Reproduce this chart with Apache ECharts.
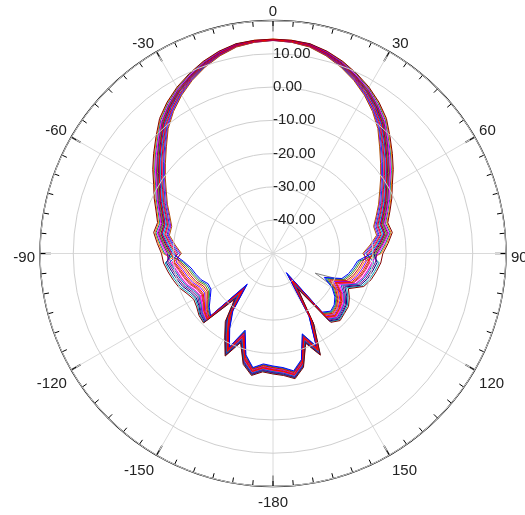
<!DOCTYPE html>
<html>
<head>
<meta charset="utf-8">
<script src="https://cdn.jsdelivr.net/npm/echarts@6/dist/echarts.min.js"></script>
<style>
html,body{margin:0;padding:0;background:#fff;}
#chart{width:525px;height:515px;}
</style>
</head>
<body>
<div id="chart"></div>
<script>
// Angles in degrees (0 = top, clockwise, -180..180)
const angles = [-180,-175,-170,-165,-160,-155,-150,-145,-140,-135,-130,-125,-120,-115,-110,-105,-100,-95,-90,-85,-80,-75,-70,-65,-60,-55,-50,-45,-40,-35,-30,-25,-20,-15,-10,-5,0,5,10,15,20,25,30,35,40,45,50,55,60,65,70,75,80,85,90,95,100,105,110,115,120,125,130,135,140,145,150,155,160,165,170,175,180];

// Radius axis range / step (dB)
const radiusMin = -50, radiusMax = 20, radiusStep = 10;
// Angle axis: labelled step and minor tick step (deg)
const angleStep = 30, angleMinorStep = 5;

const sWine = [-13.8,-14.3,-12.8,-15.5,-21.5,-16,-21,-25,-32,-20.5,-21,-22,-22.5,-21.5,-20,-19,-18,-17,
 -16.5,-15.1,-13.6,-14.1,-12.6,-10.6,-8.6,-5.9,-3.2,-0.3,3.0,5.5,7.7,9.6,11.4,12.9,14.0,14.3,14.4,14.3,14.0,12.9,11.4,9.6,7.7,5.5,3.0,-0.3,-3.2,-5.9,-8.6,-10.6,-12.6,-14.3,-13.6,-15.3,-17,
 -17.5,-18.5,-19.5,-21,-25,-23.5,-22.3,-22,-21.5,-23,-37,-25.5,-16.3,-21.3,-14.6,-11.8,-13.2,-13.8];
const sOrange = [-15.5,-16.0,-14.5,-17.6,-24.3,-18.1,-23.1,-27.8,-36.2,-22.6,-23.8,-25.5,-26.7,-26.4,-24.9,-23.9,-22.9,-21.2,
 -17.0,-15.5,-14.0,-14.4,-12.9,-10.9,-8.9,-6.2,-3.5,-0.6,2.7,5.3,7.5,9.4,11.3,12.8,13.9,14.3,14.4,14.3,13.9,12.8,11.3,9.4,7.5,5.3,2.7,-0.6,-3.5,-6.2,-8.9,-10.9,-12.9,-14.6,-14.0,-15.7,-17.5,
 -22.4,-23.4,-24.4,-25.9,-30.6,-27.7,-25.8,-24.8,-24.3,-25.8,-41.2,-27.6,-18.4,-23.4,-16.3,-13.5,-14.9,-15.5];
const sTeal = [-16.0,-16.5,-15.0,-18.3,-25.2,-18.8,-23.8,-28.7,-37.6,-23.3,-24.7,-26.6,-28.1,-28.0,-26.5,-25.5,-24.5,-22.6,
 -17.4,-15.9,-14.3,-14.8,-13.3,-11.3,-9.3,-6.6,-3.9,-1.0,2.4,5.0,7.3,9.3,11.1,12.7,13.9,14.2,14.3,14.2,13.9,12.7,11.1,9.3,7.3,5.0,2.4,-1.0,-3.9,-6.6,-9.3,-11.3,-13.3,-15.0,-14.3,-16.1,-17.9,
 -24.0,-25.0,-26.0,-27.5,-32.4,-29.1,-26.9,-25.7,-25.2,-26.7,-42.6,-28.3,-19.1,-24.1,-16.8,-14.0,-15.4,-16.0];
const sMagenta = [-14.7,-15.2,-13.7,-16.6,-23.0,-17.1,-22.1,-26.5,-34.3,-21.6,-22.5,-23.9,-24.8,-24.1,-22.6,-21.6,-20.6,-19.3,
 -17.9,-16.3,-14.7,-15.1,-13.6,-11.6,-9.6,-6.9,-4.2,-1.3,2.1,4.7,7.1,9.1,11.0,12.6,13.8,14.2,14.3,14.2,13.8,12.6,11.0,9.1,7.1,4.7,2.1,-1.3,-4.2,-6.9,-9.6,-11.6,-13.6,-15.3,-14.7,-16.5,-18.4,
 -20.1,-21.1,-22.1,-23.6,-28.0,-25.8,-24.2,-23.5,-23.0,-24.5,-39.3,-26.6,-17.4,-22.4,-15.5,-12.7,-14.1,-14.7];
const sPurple = [-14.3,-14.8,-13.3,-16.2,-22.4,-16.7,-21.7,-25.9,-33.4,-21.2,-21.9,-23.1,-23.9,-23.1,-21.6,-20.6,-19.6,-18.4,
 -18.3,-16.7,-15.0,-15.4,-13.9,-11.9,-9.9,-7.3,-4.6,-1.6,1.8,4.5,6.9,8.9,10.9,12.5,13.7,14.1,14.3,14.1,13.7,12.5,10.9,8.9,6.9,4.5,1.8,-1.6,-4.6,-7.3,-9.9,-11.9,-13.9,-15.6,-15.0,-16.9,-18.8,
 -19.1,-20.1,-21.1,-22.6,-26.8,-24.9,-23.4,-22.9,-22.4,-23.9,-38.4,-26.2,-17.0,-22.0,-15.1,-12.3,-13.7,-14.3];
const sOlive = [-15.8,-16.3,-14.8,-18.1,-24.9,-18.6,-23.6,-28.4,-37.1,-23.1,-24.4,-26.3,-27.6,-27.5,-26.0,-25.0,-24.0,-22.1,
 -18.8,-17.1,-15.4,-15.8,-14.3,-12.3,-10.3,-7.6,-4.9,-2.0,1.5,4.2,6.7,8.8,10.7,12.4,13.6,14.1,14.3,14.1,13.6,12.4,10.7,8.8,6.7,4.2,1.5,-2.0,-4.9,-7.6,-10.3,-12.3,-14.3,-16.0,-15.4,-17.3,-19.3,
 -23.5,-24.5,-25.5,-27.0,-31.8,-28.6,-26.6,-25.4,-24.9,-26.4,-42.1,-28.1,-18.9,-23.9,-16.6,-13.8,-15.2,-15.8];
const sNavy = [-14.2,-14.7,-13.2,-16.0,-22.1,-16.5,-21.5,-25.6,-32.9,-21.0,-21.6,-22.8,-23.4,-22.6,-21.1,-20.1,-19.1,-17.9,
 -19.2,-17.5,-15.8,-16.1,-14.6,-12.6,-10.6,-8.0,-5.3,-2.3,1.2,4.0,6.4,8.6,10.6,12.3,13.6,14.0,14.2,14.0,13.6,12.3,10.6,8.6,6.4,4.0,1.2,-2.3,-5.3,-8.0,-10.6,-12.6,-14.6,-16.3,-15.8,-17.7,-19.7,
 -18.6,-19.6,-20.6,-22.1,-26.2,-24.4,-23.1,-22.6,-22.1,-23.6,-37.9,-26.0,-16.8,-21.8,-15.0,-12.2,-13.6,-14.2];
const sRed = [-15.1,-15.6,-14.1,-17.2,-23.7,-17.7,-22.7,-27.2,-35.3,-22.2,-23.2,-24.8,-25.8,-25.4,-23.9,-22.9,-21.9,-20.3,
 -19.5,-17.8,-16,-16.3,-14.8,-12.8,-10.8,-8.2,-5.5,-2.5,1.0,3.8,6.3,8.5,10.5,12.2,13.5,14.0,14.2,14.0,13.5,12.2,10.5,8.5,6.3,3.8,1.0,-2.5,-5.5,-8.2,-10.8,-12.8,-14.8,-16.5,-16,-18,-20,
 -21.4,-22.4,-23.4,-24.9,-29.4,-26.8,-25.1,-24.2,-23.7,-25.2,-40.3,-27.2,-18.0,-23.0,-15.9,-13.1,-14.5,-15.1];
const sBlue = [-16.2,-16.7,-15.2,-18.5,-25.5,-19.0,-24.0,-29.0,-38.0,-23.5,-25.0,-27.0,-28.5,-28.5,-27.0,-26.0,-25.0,-23.0,
 -19.8,-18.1,-16.2,-16.5,-15.0,-13.0,-11.0,-8.4,-5.7,-2.7,0.8,3.6,6.2,8.4,10.4,12.1,13.5,14.0,14.2,14.0,13.5,12.1,10.4,8.4,6.2,3.6,0.8,-2.7,-5.7,-8.4,-11.0,-13.0,-15.0,-16.7,-16.2,-18.3,-20.3,
 -24.5,-25.5,-26.5,-28.0,-33.0,-29.5,-27.3,-26.0,-25.5,-27.0,-43.0,-28.5,-19.3,-24.3,-17.0,-14.2,-15.6,-16.2];
const sCyan = [-14.0,-14.5,-13.0,-15.7,-21.8,-16.2,-21.2,-25.3,-32.5,-20.7,-21.3,-22.4,-23.0,-22.0,-20.5,-19.5,-18.5,-17.5,
 -20.3,-18.5,-16.6,-16.9,-15.4,-13.4,-11.4,-8.8,-6.1,-3.1,0.5,3.4,6.0,8.2,10.3,12.0,13.4,13.9,14.2,13.9,13.4,12.0,10.3,8.2,6.0,3.4,0.5,-3.1,-6.1,-8.8,-11.4,-13.4,-15.4,-17.1,-16.6,-18.7,-20.8,
 -18.0,-19.0,-20.0,-21.5,-25.6,-24.0,-22.7,-22.3,-21.8,-23.3,-37.5,-25.7,-16.5,-21.5,-14.8,-12.0,-13.4,-14.0];
const sRed2 = [-15.7,-16.2,-14.7,-17.8,-24.6,-18.3,-23.3,-28.1,-36.7,-22.8,-24.1,-25.9,-27.2,-26.9,-25.4,-24.4,-23.4,-21.7,
 -20.7,-18.9,-17.0,-17.2,-15.7,-13.7,-11.7,-9.1,-6.4,-3.4,0.2,3.1,5.7,8.1,10.1,11.9,13.3,13.9,14.1,13.9,13.3,11.9,10.1,8.1,5.7,3.1,0.2,-3.4,-6.4,-9.1,-11.7,-13.7,-15.7,-17.4,-17.0,-19.1,-21.2,
 -22.9,-23.9,-24.9,-26.4,-31.2,-28.2,-26.2,-25.1,-24.6,-26.1,-41.7,-27.8,-18.6,-23.6,-16.5,-13.7,-15.1,-15.7];
const sPink = [-14.9,-15.4,-13.9,-16.9,-23.3,-17.4,-22.4,-26.8,-34.7,-21.9,-22.8,-24.3,-25.2,-24.7,-23.2,-22.2,-21.2,-19.7,
 -21.2,-19.3,-17.3,-17.5,-16.0,-14.0,-12.0,-9.5,-6.8,-3.7,-0.1,2.9,5.5,7.9,10.0,11.8,13.2,13.8,14.1,13.8,13.2,11.8,10.0,7.9,5.5,2.9,-0.1,-3.7,-6.8,-9.5,-12.0,-14.0,-16.0,-17.7,-17.3,-19.5,-21.7,
 -20.7,-21.7,-22.7,-24.2,-28.6,-26.2,-24.6,-23.8,-23.3,-24.8,-39.7,-26.9,-17.7,-22.7,-15.7,-12.9,-14.3,-14.9];
const sRoyal = [-14.5,-15.0,-13.5,-16.4,-22.7,-16.9,-21.9,-26.2,-33.8,-21.4,-22.2,-23.5,-24.3,-23.6,-22.1,-21.1,-20.1,-18.8,
 -21.6,-19.7,-17.7,-17.8,-16.3,-14.3,-12.3,-9.8,-7.1,-4.0,-0.4,2.6,5.3,7.7,9.9,11.7,13.2,13.8,14.1,13.8,13.2,11.7,9.9,7.7,5.3,2.6,-0.4,-4.0,-7.1,-9.8,-12.3,-14.3,-16.3,-18.0,-17.7,-19.9,-22.1,
 -19.6,-20.6,-21.6,-23.1,-27.4,-25.3,-23.8,-23.2,-22.7,-24.2,-38.8,-26.4,-17.2,-22.2,-15.3,-12.5,-13.9,-14.5];
const sViolet = [-15.3,-15.8,-14.3,-17.4,-24.0,-17.9,-22.9,-27.5,-35.8,-22.4,-23.5,-25.1,-26.3,-25.9,-24.4,-23.4,-22.4,-20.8,
 -22.1,-20.1,-18.0,-18.2,-16.7,-14.7,-12.7,-10.2,-7.5,-4.4,-0.7,2.4,5.1,7.6,9.7,11.6,13.1,13.7,14.0,13.7,13.1,11.6,9.7,7.6,5.1,2.4,-0.7,-4.4,-7.5,-10.2,-12.7,-14.7,-16.7,-18.4,-18.0,-20.3,-22.6,
 -21.9,-22.9,-23.9,-25.4,-30.0,-27.3,-25.4,-24.5,-24.0,-25.5,-40.8,-27.4,-18.2,-23.2,-16.1,-13.3,-14.7,-15.3];
const sBrown = [-15,-15.5,-14,-17,-23.5,-17.5,-22.5,-27,-35,-22,-23,-24.5,-25.5,-25,-23.5,-22.5,-21.5,-20,
 -22.5,-20.5,-18.4,-18.5,-17.0,-15.0,-13.0,-10.5,-7.8,-4.7,-1.0,2.1,4.9,7.4,9.6,11.5,13.0,13.7,14.0,13.7,13.0,11.5,9.6,7.4,4.9,2.1,-1.0,-4.7,-7.8,-10.5,-13.0,-15.0,-17.0,-18.7,-18.4,-20.7,-23.0,
 -21,-22,-23,-24.5,-29,-26.5,-24.8,-24,-23.5,-25,-40,-27,-17.8,-22.8,-15.8,-13,-14.4,-15];
const sGray = [-14.6,-15.1,-13.6,-16.6,-22.9,-17.1,-22.1,-26.4,-34.1,-21.6,-22.4,-23.8,-24.6,-24.0,-22.5,-21.5,-20.5,-19.1,
 -18.6,-17.0,-15.3,-15.6,-14.1,-12.1,-10.1,-7.5,-4.8,-1.8,1.6,4.3,6.7,8.8,10.8,12.4,13.7,14.1,14.3,14.1,13.7,12.4,10.8,8.8,6.7,4.3,1.6,-1.8,-4.8,-7.5,-10.1,-12.1,-14.1,-15.8,-15.3,-17.2,-19.1,
 -20.0,-21.0,-22.0,-23.5,-36.0,-25.6,-24.1,-23.4,-22.9,-24.4,-37.0,-26.6,-17.4,-22.4,-15.4,-12.6,-14.0,-14.6];

// Drawing order: first is bottom-most
const seriesList = [
  {name:'Gray', color:'#808080', values:sGray},
  {name:'Olive', color:'#808000', values:sOlive},
  {name:'Orange', color:'#FF8000', values:sOrange},
  {name:'Teal', color:'#008080', values:sTeal},
  {name:'Magenta', color:'#FF00FF', values:sMagenta},
  {name:'Cyan', color:'#00A0B0', values:sCyan},
  {name:'Navy', color:'#000080', values:sNavy},
  {name:'Purple', color:'#800080', values:sPurple},
  {name:'Pink', color:'#FF0080', values:sPink},
  {name:'Royal', color:'#0060C0', values:sRoyal},
  {name:'Violet', color:'#8000FF', values:sViolet},
  {name:'Brown', color:'#B05000', values:sBrown},
  {name:'Red2', color:'#D00020', values:sRed2},
  {name:'Blue', color:'#0000FF', values:sBlue},
  {name:'Wine', color:'#800000', values:sWine},
  {name:'Red', color:'#FF0000', values:sRed}
];

const toAxisAngle = a => (a < 0 ? a + 360 : a);

const chart = echarts.init(document.getElementById('chart'), null, {renderer:'canvas'});
const font = "'Liberation Sans', Arial, sans-serif";
const cx = 273, cy = 253.5, R = 233;

const baseAngle = {
  type: 'value', min: 0, max: 360, startAngle: 90, clockwise: true
};

chart.setOption({
  animation: false,
  backgroundColor: '#ffffff',
  polar: [
    { center: [cx, cy], radius: R },       // data, grid, major ticks
    { center: [cx, cy], radius: R },       // axis circle + minor ticks
    { center: [cx, cy + 4], radius: R }    // angle labels
  ],
  angleAxis: [
    Object.assign({}, baseAngle, {
      polarIndex: 0, interval: angleStep,
      axisLine: { show: false },
      axisTick: { show: true, inside: true, length: 11, lineStyle: { color: '#444', width: 1.6 } },
      axisLabel: { show: false },
      splitLine: { show: true, lineStyle: { color: '#dadada', width: 1 } },
      z: 3
    }),
    Object.assign({}, baseAngle, {
      polarIndex: 1, interval: angleMinorStep,
      axisLine: { show: true, lineStyle: { color: '#000', width: 1.3 } },
      axisTick: { show: true, inside: true, length: 5.5, lineStyle: { color: '#000', width: 1 } },
      axisLabel: { show: false },
      splitLine: { show: false },
      z: 3
    }),
    Object.assign({}, baseAngle, {
      polarIndex: 2, interval: angleStep,
      axisLine: { show: false },
      axisTick: { show: false },
      splitLine: { show: false },
      axisLabel: {
        show: true, margin: 5, color: '#222', fontSize: 15, fontFamily: font,
        formatter: v => String(v >= 180 ? v - 360 : v)
      },
      z: 3
    })
  ],
  radiusAxis: [{
    polarIndex: 0,
    type: 'value',
    min: radiusMin, max: radiusMax, interval: radiusStep,
    axisLine: { show: false },
    axisTick: { show: false },
    axisLabel: {
      show: true, margin: 0, align: 'left', verticalAlign: 'middle',
      padding: [0, 0, 7, 0],
      color: '#222', fontSize: 15, fontFamily: font,
      formatter: v => (v > radiusMin && v < radiusMax) ? v.toFixed(2) : ''
    },
    splitLine: { show: true, lineStyle: { color: '#cfcfcf', width: 1 } },
    z: 10
  }, {
    polarIndex: 1, type: 'value', min: radiusMin, max: radiusMax, show: false
  }, {
    polarIndex: 2, type: 'value', min: radiusMin, max: radiusMax, show: false
  }],
  series: seriesList.map(s => ({
    name: s.name,
    type: 'line',
    coordinateSystem: 'polar',
    polarIndex: 0,
    showSymbol: false,
    symbol: 'none',
    silent: true,
    clip: false,
    lineStyle: { color: s.color, width: 1 },
    itemStyle: { color: s.color },
    data: angles.map((a, i) => [s.values[i], toAxisAngle(a)])
  }))
});
</script>
</body>
</html>
